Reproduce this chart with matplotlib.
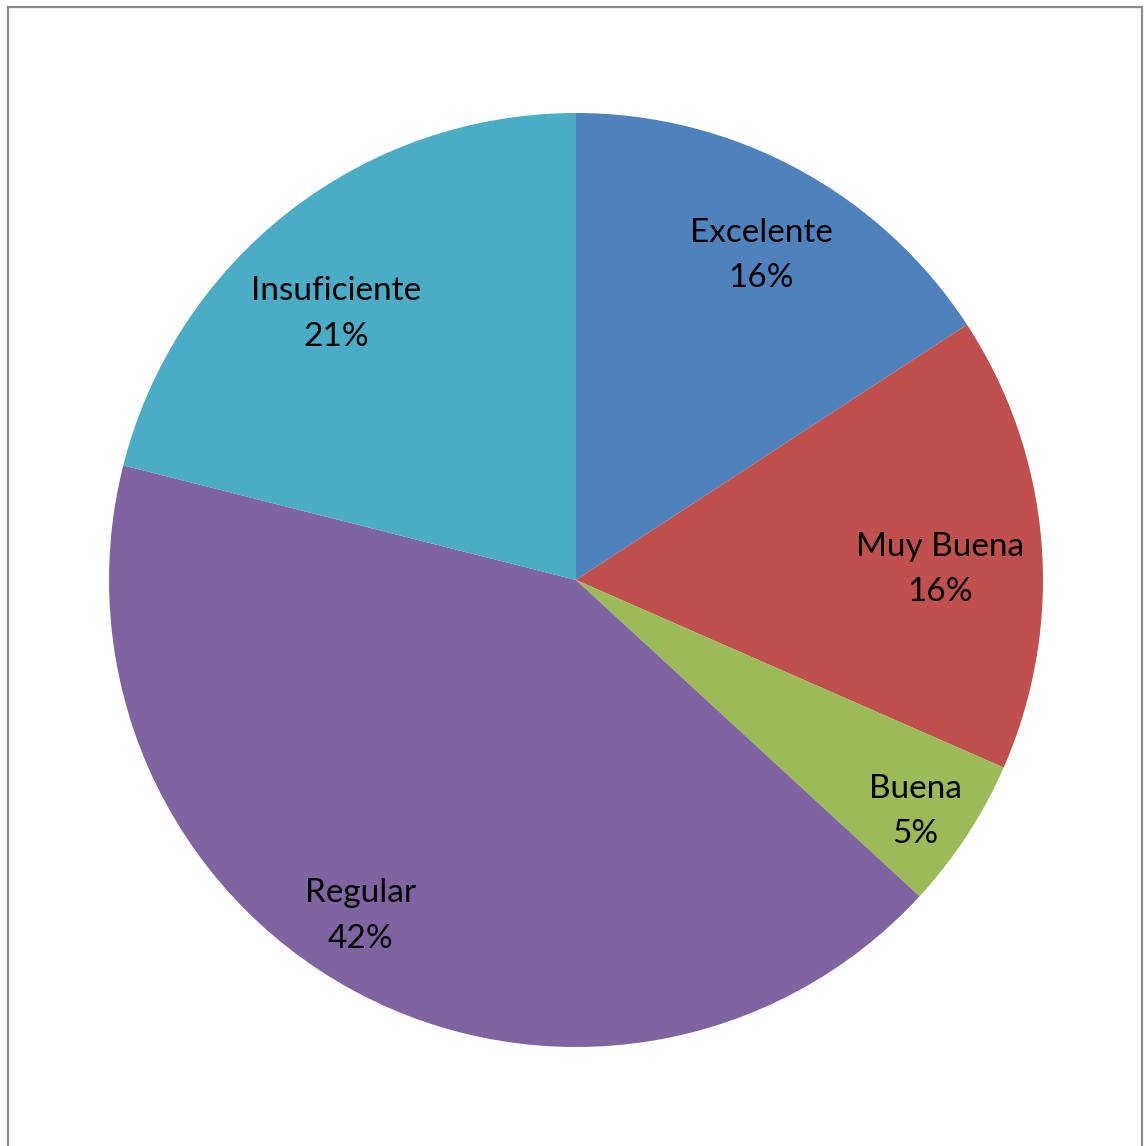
import numpy as np
import matplotlib.pyplot as plt
from matplotlib.patches import Rectangle

categorias = ["Excelente", "Muy Buena", "Buena", "Regular", "Insuficiente"]
respuestas = [3, 3, 1, 8, 4]
colores = ["#4F81BD", "#C0504D", "#9BBB59", "#8064A2", "#4BACC6"]
# posicion de cada etiqueta: distancia al centro (fraccion del radio) y giro respecto al centro de la porcion
dist_etiqueta = [0.80, 0.78, 0.88, 0.855, 0.767]
giro_etiqueta = [-1.3, -3.1, -1.1, -4.3, 4.2]

W, H = 1144, 1146
fig = plt.figure(figsize=(W / 100, H / 100), dpi=100)

cx, cy, r = 576, 580, 467
ax = fig.add_axes([(cx - r) / W, (H - cy - r) / H, 2 * r / W, 2 * r / H])

wedges, _ = ax.pie(respuestas, colors=colores, startangle=90, counterclock=False,
                   radius=1, wedgeprops=dict(linewidth=0))

total = sum(respuestas)
for w, cat, val, d, g in zip(wedges, categorias, respuestas, dist_etiqueta, giro_etiqueta):
    ang = np.deg2rad((w.theta1 + w.theta2) / 2 + g)
    x, y = d * np.cos(ang), d * np.sin(ang)
    ax.text(x, y, f"{cat}\n{val / total * 100:.0f}%", ha="center", va="center",
            fontsize=24, family="Lato", color="black", linespacing=1.65)

ax.set_xlim(-1, 1)
ax.set_ylim(-1, 1)
ax.set_aspect("equal")
ax.axis("off")

# marco del area del grafico
fig.patches.append(Rectangle((8 / W, -0.05), 1134 / W, 1.05 - 7 / H, transform=fig.transFigure,
                             fill=False, edgecolor="#8C8C8C", linewidth=1.6))

fig.savefig("out.png", dpi=100)
